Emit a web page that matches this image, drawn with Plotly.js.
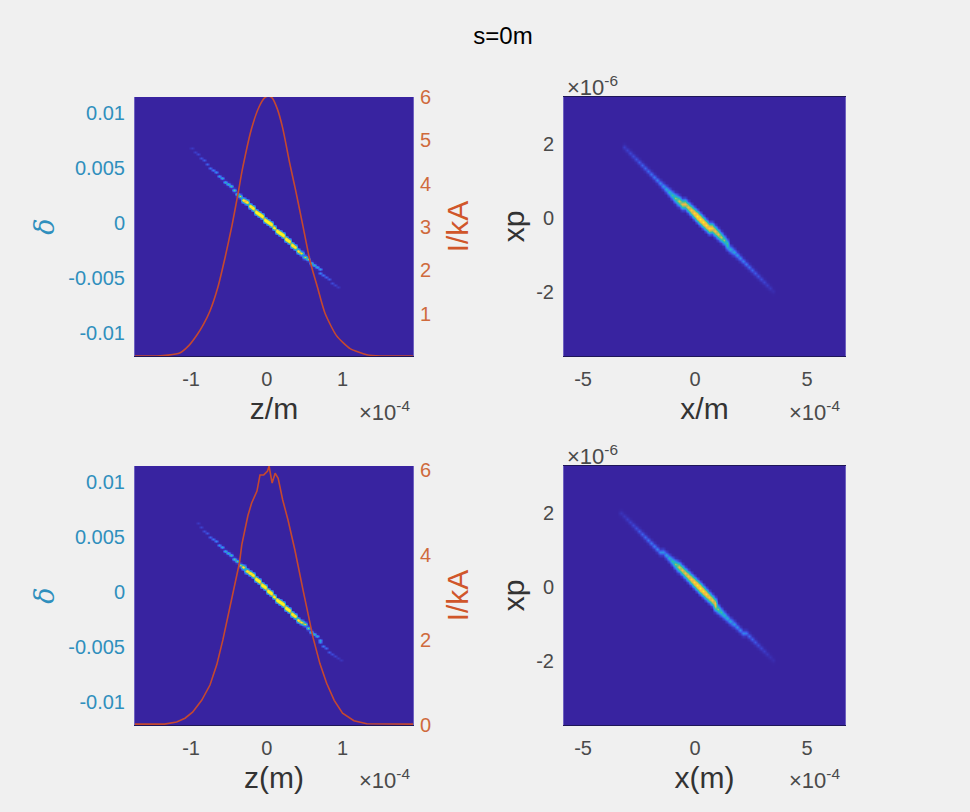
<!DOCTYPE html>
<html><head><meta charset="utf-8">
<script src="https://cdn.plot.ly/plotly-3.0.1.min.js"></script>
<style>html,body{margin:0;padding:0;background:#f0f0f0}#c{width:970px;height:812px}</style>
</head><body><div id="c"></div>
<script>
// Current profiles (z in 1e-4 m, I in kA)
const topCurrentZ=[-1.74,-1.45,-1.3,-1.15,-1.03,-0.925,-0.84,-0.75,-0.647,-0.55,-0.46,-0.38,-0.32,-0.2,-0.1,-0.03,0.02,0.07,0.14,0.21,0.3,0.38,0.476,0.57,0.67,0.77,0.92,1.1,1.32,1.5,1.93];
const topCurrentI=[0.02,0.02,0.04,0.09,0.26,0.5,0.74,1.06,1.6,2.3,3.03,3.77,4.35,5.28,5.78,5.98,6.02,5.98,5.72,5.28,4.49,3.85,3.03,2.22,1.6,1.0,0.49,0.19,0.05,0.02,0.02];
const botCurrentZ=[-1.74,-1.35,-1.19,-1.08,-0.98,-0.86,-0.75,-0.66,-0.58,-0.45,-0.36,-0.33,-0.29,-0.25,-0.2,-0.13,-0.09,-0.04,0.01,0.03,0.07,0.11,0.15,0.21,0.28,0.37,0.48,0.61,0.7,0.79,0.89,1.0,1.15,1.32,1.93];
const botCurrentI=[0.02,0.02,0.07,0.16,0.3,0.58,0.94,1.42,2.0,3.1,3.82,4.24,4.59,4.92,5.22,5.5,5.88,5.88,5.97,6.09,5.69,5.92,5.8,5.29,4.82,4.12,3.16,2.06,1.45,0.98,0.58,0.28,0.1,0.03,0.02];

// Longitudinal phase space ridge (z in 1e-4 m, delta, normalised density)
const topLongZ=[-1.0,-0.96,-0.92,-0.88,-0.84,-0.8,-0.76,-0.72,-0.68,-0.64,-0.6,-0.56,-0.52,-0.48,-0.44,-0.4,-0.36,-0.32,-0.28,-0.24,-0.2,-0.16,-0.12,-0.08,-0.04,0,0.04,0.08,0.12,0.16,0.2,0.24,0.28,0.32,0.36,0.4,0.44,0.48,0.52,0.56,0.6,0.64,0.68,0.72,0.76,0.8,0.84,0.88,0.92,0.96];
const topLongD=[0.0068,0.0065,0.0062,0.0059,0.0057,0.0054,0.0051,0.0049,0.0046,0.0043,0.0041,0.0038,0.0035,0.0033,0.003,0.0027,0.0024,0.0022,0.0019,0.0016,0.0014,0.0011,0.0009,0.0006,0.0003,0.0001,-0.0001,-0.0004,-0.0007,-0.001,-0.0012,-0.0015,-0.0017,-0.002,-0.0023,-0.0025,-0.0028,-0.0031,-0.0033,-0.0036,-0.0038,-0.0041,-0.0043,-0.0045,-0.0048,-0.005,-0.0052,-0.0054,-0.0056,-0.0059];
const topLongC=[0.05,0.06,0.08,0.1,0.12,0.14,0.16,0.19,0.22,0.26,0.3,0.32,0.35,0.37,0.4,0.42,0.55,0.8,0.85,0.9,0.95,1,1,1,1,1,1,1,1,1,1,1,0.95,0.95,0.88,0.8,0.65,0.55,0.45,0.4,0.34,0.3,0.25,0.2,0.17,0.14,0.12,0.09,0.07,0.05];
const botLongZ=[-0.92,-0.88,-0.84,-0.8,-0.76,-0.72,-0.68,-0.64,-0.6,-0.56,-0.52,-0.48,-0.44,-0.4,-0.36,-0.32,-0.28,-0.24,-0.2,-0.16,-0.12,-0.08,-0.04,0,0.04,0.08,0.12,0.16,0.2,0.24,0.28,0.32,0.36,0.4,0.44,0.48,0.52,0.56,0.6,0.64,0.68,0.72,0.76,0.8,0.84,0.88,0.92,0.96,1.0];
const botLongD=[0.0062,0.0059,0.0056,0.0054,0.0051,0.0049,0.0046,0.0043,0.0041,0.0038,0.0035,0.0033,0.003,0.0028,0.0025,0.0023,0.002,0.0017,0.0015,0.0012,0.001,0.0007,0.0004,0.0001,-0.0001,-0.0004,-0.0007,-0.0009,-0.0012,-0.0015,-0.0017,-0.002,-0.0022,-0.0025,-0.0027,-0.003,-0.0033,-0.0036,-0.0038,-0.0041,-0.0044,-0.0046,-0.0049,-0.0051,-0.0054,-0.0056,-0.0058,-0.0061,-0.0063];
const botLongC=[0.05,0.07,0.09,0.11,0.14,0.17,0.2,0.24,0.28,0.31,0.34,0.36,0.39,0.42,0.5,0.75,0.82,0.88,0.92,1,1,1,1,1,1,1,1,1,1,1,0.98,0.95,0.88,0.82,0.68,0.58,0.46,0.4,0.34,0.3,0.26,0.22,0.18,0.15,0.12,0.09,0.07,0.05,0.04];

// Transverse phase space ridge (x in 1e-4 m, xp in 1e-6, normalised density)
const topTransX=[-3.21,-3.075,-2.94,-2.805,-2.67,-2.535,-2.4,-2.265,-2.13,-1.995,-1.86,-1.725,-1.59,-1.455,-1.32,-1.185,-1.05,-0.915,-0.78,-0.645,-0.51,-0.375,-0.24,-0.105,0.03,0.165,0.3,0.435,0.57,0.705,0.84,0.975,1.11,1.245,1.38,1.515,1.65,1.785,1.92,2.055,2.19,2.325,2.46,2.595,2.73,2.865,3.0,3.135,3.27,3.405,3.54];
const topTransY=[1.89,1.82,1.74,1.66,1.58,1.5,1.42,1.35,1.27,1.19,1.11,1.03,0.95,0.87,0.8,0.72,0.64,0.56,0.48,0.41,0.34,0.26,0.18,0.1,0.03,-0.03,-0.1,-0.17,-0.24,-0.31,-0.38,-0.45,-0.51,-0.58,-0.66,-0.73,-0.82,-0.9,-0.98,-1.06,-1.15,-1.24,-1.31,-1.4,-1.48,-1.57,-1.65,-1.73,-1.82,-1.9,-1.98];
const topTransC=[0.08,0.09,0.11,0.12,0.14,0.16,0.18,0.19,0.2,0.22,0.24,0.26,0.28,0.32,0.38,0.44,0.5,0.6,0.72,0.75,0.77,0.8,0.86,0.92,1,1,0.98,0.95,0.9,0.85,0.82,0.78,0.7,0.62,0.5,0.44,0.4,0.36,0.32,0.29,0.26,0.24,0.21,0.19,0.16,0.14,0.12,0.1,0.08,0.06,0.03];
const botTransX=[-3.35,-3.215,-3.08,-2.945,-2.81,-2.675,-2.54,-2.405,-2.27,-2.135,-2.0,-1.865,-1.73,-1.595,-1.46,-1.325,-1.19,-1.055,-0.92,-0.785,-0.65,-0.515,-0.38,-0.245,-0.11,0.025,0.16,0.295,0.43,0.565,0.7,0.835,0.97,1.105,1.24,1.375,1.51,1.645,1.78,1.915,2.05,2.185,2.32,2.455,2.59,2.725,2.86,2.995,3.13,3.265,3.4,3.535];
const botTransY=[2.0,1.92,1.84,1.76,1.69,1.61,1.53,1.46,1.38,1.3,1.22,1.15,1.07,0.99,0.91,0.84,0.76,0.68,0.61,0.53,0.45,0.37,0.29,0.2,0.12,0.05,-0.03,-0.12,-0.2,-0.28,-0.37,-0.45,-0.53,-0.61,-0.69,-0.76,-0.84,-0.91,-0.98,-1.06,-1.13,-1.21,-1.28,-1.35,-1.43,-1.5,-1.58,-1.65,-1.73,-1.8,-1.88,-1.95];
const botTransC=[0.05,0.06,0.08,0.09,0.11,0.13,0.16,0.18,0.2,0.22,0.23,0.25,0.27,0.28,0.3,0.35,0.4,0.48,0.6,0.76,0.78,0.8,0.84,0.88,0.93,0.96,1,0.96,0.92,0.86,0.84,0.8,0.72,0.6,0.5,0.44,0.4,0.36,0.33,0.3,0.28,0.26,0.23,0.2,0.18,0.15,0.12,0.1,0.08,0.06,0.04,0.03];

// Axis extents and tick labels
const zRange=[-1.74,1.93], deltaRange=[-0.0121,0.01145];
const xRange=[-5.85,6.7], xpRange=[-3.73,3.27];
const zTicks=[-1,0,1], deltaTicks=[-0.01,-0.005,0,0.005,0.01];
const deltaLabels=['-0.01','-0.005','0','0.005','0.01'];
const xTicks=[-5,0,5], xpTicks=[-2,0,2];
const topITicks=[1,2,3,4,5,6], botITicks=[0,2,4,6];
const topIRange=[0.02,6.0], botIRange=[0,6.09];
const longProfile=[1,0.45], transProfile=[1,0.68,0.22];

const parula=[[0,'#3823a0'],[0.08,'#3b3cc8'],[0.18,'#3a62ec'],[0.28,'#2f8ee6'],[0.38,'#20b0d0'],[0.48,'#34bca0'],[0.58,'#88c070'],[0.68,'#d0b850'],[0.78,'#f8b840'],[0.88,'#f4dc28'],[1,'#f6f820']];

function grid(rx,ry,nx,ny,X,Y,C,kernel){
  const xs=[],ys=[],zs=[];
  for(let i=0;i<nx;i++)xs.push(rx[0]+(i+0.5)*(rx[1]-rx[0])/nx);
  for(let j=0;j<ny;j++){ys.push(ry[0]+(j+0.5)*(ry[1]-ry[0])/ny);zs.push(new Array(nx).fill(0));}
  X.forEach((v,k)=>{
    const col=Math.round((v-rx[0])/(rx[1]-rx[0])*nx-0.5);
    const row=Math.round((Y[k]-ry[0])/(ry[1]-ry[0])*ny-0.5);
    const sharp=1/Math.max(C[k],0.25); // faint ends of the beam are narrower
    kernel.forEach((w,o)=>{
      const val=C[k]*Math.pow(w,sharp);
      [o,-o].forEach(s=>{ if(zs[row+s]) zs[row+s][col]=Math.max(zs[row+s][col],val); });
    });
  });
  return {x:xs,y:ys,z:zs};
}
function heat(g,xa,ya,zmax){return Object.assign({type:'heatmap',xaxis:xa,yaxis:ya,colorscale:parula,zmin:0,zmax,zsmooth:'best',showscale:false,hoverinfo:'skip'},g);}

const traces=[
 heat(grid(zRange,deltaRange,91,130,topLongZ,topLongD,topLongC,longProfile),'x','y',0.72),
 {type:'scatter',mode:'lines',x:topCurrentZ,y:topCurrentI,xaxis:'x',yaxis:'y2',line:{color:'#c5482f',width:1.6,shape:'spline',smoothing:0.6},hoverinfo:'skip'},
 heat(grid(xRange,xpRange,92,86,topTransX,topTransY,topTransC,transProfile),'x2','y3',1),
 heat(grid(zRange,deltaRange,91,130,botLongZ,botLongD,botLongC,longProfile),'x3','y4',0.72),
 {type:'scatter',mode:'lines',x:botCurrentZ,y:botCurrentI,xaxis:'x3',yaxis:'y5',line:{color:'#c5482f',width:1.6},hoverinfo:'skip'},
 heat(grid(xRange,xpRange,92,86,botTransX,botTransY,botTransC,transProfile),'x4','y6',1)
];

const W=970,H=812,FONT='"Liberation Sans", Arial, sans-serif',TICK=20,TITLE=30;
const GREY='#4a4a4a',BLUE='#2f8fbd',ORANGE='#cf6a3c';
const dx=(a,b)=>[a/W,b/W], dy=(top,bot)=>[1-bot/H,1-top/H];
const edge='#6f62c0', dark='#1e1658';
function xAxis(range,vals,title,dom,anchor,mirror){return {domain:dom,range,anchor,tickmode:'array',tickvals:vals,ticktext:vals.map(String),ticks:'',ticklabelstandoff:5,showgrid:false,zeroline:false,showline:true,mirror,linecolor:dark,linewidth:1,tickfont:{family:FONT,size:TICK,color:GREY},title:{text:title,font:{family:FONT,size:TITLE,color:'#333'},standoff:8}};}
function yLeft(range,vals,labels,title,dom,anchor,color,standoff,tfont){return {domain:dom,range,anchor,tickmode:'array',tickvals:vals,ticktext:labels,ticks:'',ticklabelstandoff:5,showgrid:false,zeroline:false,showline:true,mirror:true,linecolor:edge,linewidth:1,tickfont:{family:FONT,size:TICK,color},title:{text:title,font:tfont,standoff}};}
function yRight(range,vals,title,overlay,anchor){return {overlaying:overlay,side:'right',anchor,range,tickmode:'array',tickvals:vals,ticktext:vals.map(String),ticks:'',ticklabelstandoff:6,showgrid:false,zeroline:false,tickfont:{family:FONT,size:TICK,color:ORANGE},title:{text:title,font:{family:FONT,size:TITLE,color:'#d0562a'},standoff:16}};}

const colL=dx(135,413), colR=dx(564,845), rowT=dy(97,356), rowB=dy(466,725);
const deltaFont={family:'"DejaVu Serif", serif',size:27,color:BLUE}, xpFont={family:FONT,size:TITLE,color:'#333'};
const layout={
 width:W,height:H,autosize:false,margin:{l:0,r:0,t:0,b:0},paper_bgcolor:'#f0f0f0',plot_bgcolor:'#3823a0',showlegend:false,
 title:{text:'s=0m',x:503/W,xanchor:'center',y:1-36/H,yanchor:'middle',font:{family:FONT,size:24,color:'#000'}},
 xaxis:xAxis(zRange,zTicks,'z/m',colL,'y',false),
 yaxis:yLeft(deltaRange,deltaTicks,deltaLabels,'<i>δ</i>',rowT,'x',BLUE,5,deltaFont),
 yaxis2:yRight(topIRange,topITicks,'I/kA','y','x'),
 xaxis2:xAxis(xRange,xTicks,'x/m',colR,'y3',true),
 yaxis3:yLeft(xpRange,xpTicks,xpTicks.map(String),'xp',rowT,'x2',GREY,2,xpFont),
 xaxis3:xAxis(zRange,zTicks,'z(m)',colL,'y4',false),
 yaxis4:yLeft(deltaRange,deltaTicks,deltaLabels,'<i>δ</i>',rowB,'x3',BLUE,5,deltaFont),
 yaxis5:yRight(botIRange,botITicks,'I/kA','y4','x3'),
 xaxis4:xAxis(xRange,xTicks,'x(m)',colR,'y6',true),
 yaxis6:yLeft(xpRange,xpTicks,xpTicks.map(String),'xp',rowB,'x4',GREY,2,xpFont),
 annotations:[[384,411,'×10<sup>-4</sup>'],[814,411,'×10<sup>-4</sup>'],[592,86,'×10<sup>-6</sup>'],[384,779,'×10<sup>-4</sup>'],[814,779,'×10<sup>-4</sup>'],[592,455,'×10<sup>-6</sup>']].map(a=>({xref:'paper',yref:'paper',x:a[0]/W,y:1-a[1]/H,text:a[2],showarrow:false,xanchor:'center',yanchor:'middle',font:{family:FONT,size:22,color:GREY}}))
};
Plotly.newPlot('c',traces,layout,{displayModeBar:false,staticPlot:true});
</script></body></html>
